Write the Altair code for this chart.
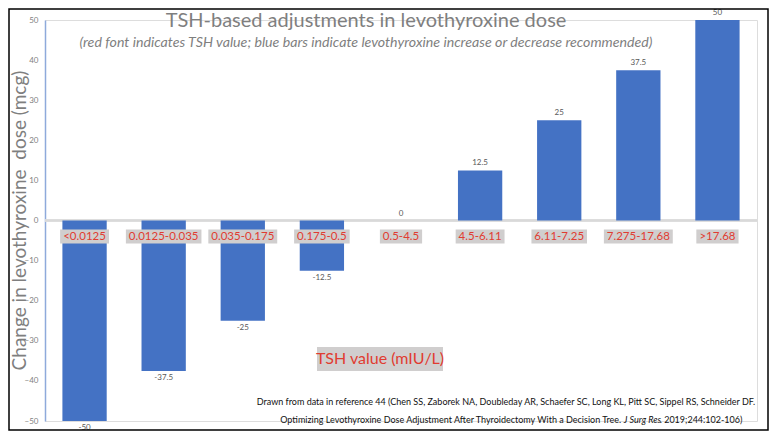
import altair as alt
import pandas as pd

# ---- data ----
categories = ["<0.0125", "0.0125-0.035", "0.035-0.175", "0.175-0.5", "0.5-4.5",
              "4.5-6.11", "6.11-7.25", "7.275-17.68", ">17.68"]
changes = [-50, -37.5, -25, -12.5, 0, 12.5, 25, 37.5, 50]
y_ticks = [-50, -40, -30, -20, -10, 0, 10, 20, 30, 40, 50]

title_text = "TSH-based adjustments in levothyroxine dose"
subtitle_text = ("(red font indicates TSH value; blue bars indicate levothyroxine "
                 "increase or decrease recommended)")
y_title = "Change in levothyroxine\u00a0 dose (mcg)"
x_label = "TSH value (mIU/L)"
note_1 = ("Drawn from data in reference 44 (Chen SS, Zaborek NA, Doubleday AR, "
          "Schaefer SC, Long KL, Pitt SC, Sippel RS, Schneider DF.")
note_2a = "Optimizing Levothyroxine Dose Adjustment After Thyroidectomy With a Decision Tree."
note_2b = "J Surg Res"
note_2c = ". 2019;244:102-106)"

W, H = 712, 401
FONT = "Lato"
LAB_FS = 11.5
NOTE_FS = 9


def text_w(s, size):
    em = {".": 0.25, "-": 0.33}
    return sum(em.get(c, 0.58) for c in s) * size + 6


df = pd.DataFrame({"cat": categories, "change": changes})
df["label"] = [f"{v:g}" for v in changes]
df["boxw"] = [text_w(c, LAB_FS) for c in categories]

one = pd.DataFrame({"a": [0]})

x = alt.X("cat:N", sort=categories, axis=None,
          scale=alt.Scale(paddingInner=0.44, paddingOuter=0.22))
yscale = alt.Scale(domain=[-50, 50], nice=False)

base = alt.Chart(df)

zero_rule = base.mark_rule(color="#d9d9d9", strokeWidth=1.5).encode(y=alt.datum(0))

bars = base.mark_bar(color="#4472c4").encode(
    x=x,
    y=alt.Y("change:Q", scale=yscale, title=None,
            axis=alt.Axis(values=y_ticks, ticks=False, grid=False,
                          domainColor="#8eaadb", domainWidth=1.5,
                          labelColor="#7f7f7f", labelFontSize=8, labelFont=FONT,
                          labelPadding=7)),
)

pos_labels = base.transform_filter("datum.change >= 0").mark_text(
    dy=-7, fontSize=8, color="#595959", font=FONT, baseline="middle"
).encode(x=x, y=alt.Y("change:Q"), text="label:N")

neg_labels = base.transform_filter("datum.change < 0").mark_text(
    dy=7, fontSize=8, color="#595959", font=FONT, baseline="middle"
).encode(x=x, y=alt.Y("change:Q"), text="label:N")

boxes = base.mark_tick(orient="horizontal", thickness=14, color="#d0cece",
                       opacity=1, yOffset=16).encode(
    x=x, y=alt.datum(0), size=alt.Size("boxw:Q", scale=None))

cat_text = base.mark_text(dy=16, color="#e03c31", fontSize=LAB_FS, font=FONT,
                          baseline="middle").encode(
    x=x, y=alt.datum(0), text="cat:N")

ann = alt.Chart(one)
title_mark = ann.mark_text(text=title_text, fontSize=20, color="#7f7f7f", font=FONT,
                           baseline="middle").encode(x=alt.value(321), y=alt.value(1))
subtitle_mark = ann.mark_text(text=subtitle_text, fontSize=14.2, fontStyle="italic",
                              color="#7f7f7f", font=FONT, baseline="middle").encode(
    x=alt.value(321), y=alt.value(23))
ytitle_mark = ann.mark_text(text=y_title, fontSize=19, color="#7f7f7f", font=FONT,
                            angle=270, baseline="middle").encode(
    x=alt.value(-25), y=alt.value(H / 2))
xlab_box = ann.mark_rect(color="#d0cece").encode(
    x=alt.value(272), x2=alt.value(398), y=alt.value(327), y2=alt.value(351))
xlab_text = ann.mark_text(text=x_label, fontSize=16, color="#e03c31", font=FONT,
                          baseline="middle").encode(x=alt.value(335), y=alt.value(339))
note1_mark = ann.mark_text(text=note_1, fontSize=NOTE_FS, color="#111111", font=FONT,
                           baseline="middle").encode(x=alt.value(461), y=alt.value(382))

# second note line: split so that the journal name can be italic
w_a = 0.485 * NOTE_FS * len(note_2a) + 2.5
w_b = 36
w_c = 0.52 * NOTE_FS * len(note_2c)
start = 461 - (w_a + w_b + w_c) / 2
anchor = start + w_a
note2a_mark = ann.mark_text(text=note_2a, fontSize=NOTE_FS, color="#111111", font=FONT,
                            baseline="middle", align="right").encode(
    x=alt.value(anchor - 2.5), y=alt.value(400))
note2b_mark = ann.mark_text(text=note_2b, fontSize=NOTE_FS, color="#111111", font=FONT,
                            fontStyle="italic", baseline="middle", align="left").encode(
    x=alt.value(anchor), y=alt.value(400))
note2c_mark = ann.mark_text(text=note_2c, fontSize=NOTE_FS, color="#111111", font=FONT,
                            baseline="middle", align="left").encode(
    x=alt.value(anchor + w_b), y=alt.value(400))
frame = ann.mark_rect(filled=False, stroke="#000000", strokeWidth=1.5).encode(
    x=alt.value(-36), x2=alt.value(W + 11), y=alt.value(-11), y2=alt.value(H + 9))

chart = alt.layer(
    zero_rule, bars, pos_labels, neg_labels, boxes, cat_text,
    title_mark, subtitle_mark, ytitle_mark, xlab_box, xlab_text,
    note1_mark, note2a_mark, note2b_mark, note2c_mark, frame,
).properties(
    width=W, height=H,
    padding={"left": 37, "top": 12, "right": 12, "bottom": 10},
    autosize=alt.AutoSizeParams(type="none"),
).configure_view(stroke=None).configure(font=FONT)

chart.save("out.html", embed_options={"renderer": "svg", "actions": False})
